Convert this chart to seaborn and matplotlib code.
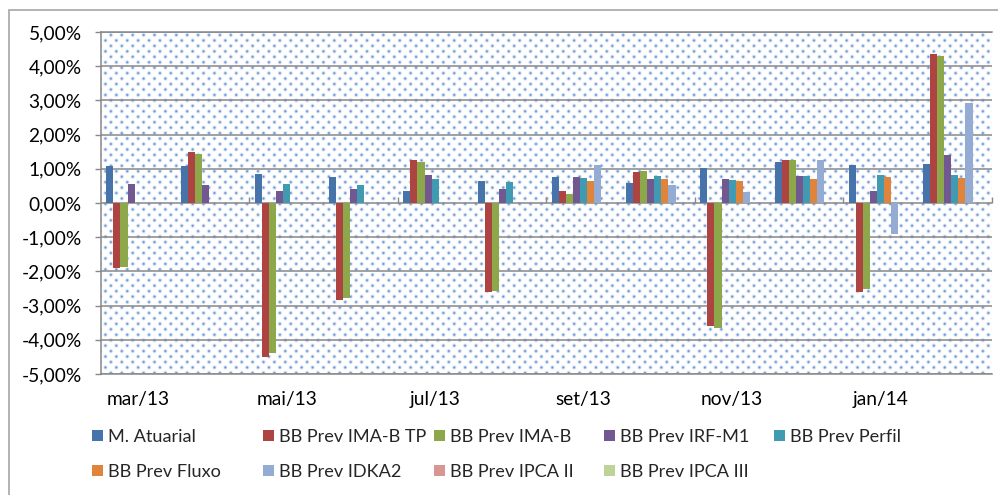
import numpy as np
import pandas as pd
import matplotlib
matplotlib.use("Agg")
import matplotlib.pyplot as plt
import seaborn as sns
from matplotlib.patches import Patch, Rectangle
from matplotlib.ticker import FuncFormatter, FixedLocator
from matplotlib.textpath import TextPath
from matplotlib.font_manager import FontProperties

# ---------------- data (monthly returns, %) ----------------
months = ["mar/13", "abr/13", "mai/13", "jun/13", "jul/13", "ago/13",
          "set/13", "out/13", "nov/13", "dez/13", "jan/14", "fev/14"]
tick_months = ["mar/13", "mai/13", "jul/13", "set/13", "nov/13", "jan/14"]
nan = np.nan
series = ["M. Atuarial", "BB Prev IMA-B TP", "BB Prev IMA-B", "BB Prev IRF-M1",
          "BB Prev Perfil", "BB Prev Fluxo", "BB Prev IDKA2", "BB Prev IPCA II",
          "BB Prev IPCA III"]
m_atuarial = [1.09, 1.08, 0.84, 0.76, 0.35, 0.64, 0.75, 0.59, 1.01, 1.20, 1.11, 1.13]
ima_b_tp = [-1.90, 1.49, -4.49, -2.83, 1.25, -2.60, 0.34, 0.90, -3.61, 1.25, -2.59, 4.37]
ima_b = [-1.86, 1.43, -4.39, -2.77, 1.21, -2.58, 0.26, 0.95, -3.65, 1.25, -2.52, 4.30]
irf_m1 = [0.55, 0.54, 0.36, 0.42, 0.83, 0.42, 0.77, 0.69, 0.70, 0.79, 0.36, 1.39]
perfil = [nan, nan, 0.57, 0.54, 0.70, 0.62, 0.72, 0.80, 0.66, 0.79, 0.81, 0.83]
fluxo = [nan, nan, nan, nan, nan, nan, 0.63, 0.71, 0.63, 0.71, 0.76, 0.72]
idka2 = [nan, nan, nan, nan, nan, nan, 1.11, 0.54, 0.31, 1.27, -0.91, 2.92]
ipca_ii = [nan] * 12
ipca_iii = [nan] * 12
values = [m_atuarial, ima_b_tp, ima_b, irf_m1, perfil, fluxo, idka2, ipca_ii, ipca_iii]
colors = ["#4674AA", "#AD4441", "#8CA84B", "#725891", "#3F9AB2", "#E0843C",
          "#94ABD4", "#D89593", "#BDD39A"]

rows = []
for s, vals in zip(series, values):
    for m, v in zip(months, vals):
        rows.append({"mes": m, "serie": s, "valor": v})
df = pd.DataFrame(rows).dropna()

# ---------------- style ----------------
sns.set_style("white")
plt.rcParams["font.family"] = ["Lato", "DejaVu Sans"]
fp = FontProperties(family="Lato")


def fit_size(text, target_px):
    w = TextPath((0, 0), text, size=10, prop=fp).get_extents().width
    return 10 * target_px * 0.72 / w


tick_fs = fit_size("5,00%", 51)
leg_fs = fit_size("BB Prev IMA-B TP", 146)
GRAY = "#888888"

W, H = 998, 495
fig = plt.figure(figsize=(W / 100, H / 100), dpi=100)
left_px, right_px, top_px, bot_px = 101, 992, 32, 374
ax = fig.add_axes([left_px / W, 1 - bot_px / H, (right_px - left_px) / W,
                   (bot_px - top_px) / H])

# dotted background texture (Excel "5%" pattern)
aw, ah = right_px - left_px, bot_px - top_px
yy, xx = np.mgrid[0:ah, 0:aw] + 0.5
img_a = np.zeros((ah, aw))
step = 5.45
for j in range(int(ah / step) + 2):
    cy = 3 + j * step
    off = 0 if j % 2 == 0 else step
    cxs = np.arange(-1 + off, aw + 11, 2 * step)
    y0, y1 = max(int(cy) - 4, 0), min(int(cy) + 5, ah)
    if y0 >= y1:
        continue
    for cx in cxs:
        x0, x1 = max(int(cx) - 4, 0), min(int(cx) + 5, aw)
        if x0 >= x1:
            continue
        d2 = (xx[y0:y1, x0:x1] - cx) ** 2 + (yy[y0:y1, x0:x1] - cy) ** 2
        img_a[y0:y1, x0:x1] = np.maximum(img_a[y0:y1, x0:x1], np.exp(-d2 / (2 * 1.0 ** 2)))
dot_rgb = np.array([0x55, 0x86, 0xCE]) / 255.0
a = img_a[..., None] * 0.92
img = np.ones((ah, aw, 3)) * (1 - a) + dot_rgb * a
ax.imshow(img, extent=(0, 1, 0, 1), transform=ax.transAxes, aspect="auto",
          zorder=0, interpolation="nearest")

sns.barplot(data=df, x="mes", y="valor", hue="serie", order=months,
            hue_order=series, palette=colors, width=9 / 10.5, errorbar=None,
            saturation=1, legend=False, ax=ax, zorder=2, linewidth=0)

ax.set_xlim(-0.5, len(months) - 0.5)
ax.set_ylim(-5, 5)
ax.set_yticks(np.arange(-5, 5.01, 1))
ax.yaxis.set_major_formatter(FuncFormatter(
    lambda v, p: ("%.2f%%" % (0.0 if abs(v) < 1e-9 else v)).replace(".", ",")))
ax.grid(axis="y", color=GRAY, lw=1.1, zorder=1)
ax.grid(axis="x", visible=False)
ax.set_axisbelow(True)
for g in ax.get_ygridlines():
    g.set_zorder(1)

ax.set_xticks(range(0, len(months), 2))
ax.set_xticklabels(tick_months)
ax.set_xlabel("")
ax.set_ylabel("")
ax.tick_params(axis="x", length=0, pad=12, labelsize=tick_fs, colors="black")
ax.tick_params(axis="y", length=4, width=1.0, color=GRAY, pad=10,
               labelsize=tick_fs, labelcolor="black", left=True)
for side in ["left", "top", "bottom"]:
    ax.spines[side].set_visible(True)
    ax.spines[side].set_color(GRAY)
    ax.spines[side].set_linewidth(1.1)
ax.spines["right"].set_visible(False)

# small tick marks on the zero line between category pairs
sec = ax.secondary_xaxis(0.5)
sec.xaxis.set_major_locator(FixedLocator(np.arange(1.5, len(months), 2)))
sec.tick_params(axis="x", length=4, width=1.0, color=GRAY, labeltop=False,
                labelbottom=False)
for sp in sec.spines.values():
    sp.set_visible(False)

# legend: 5 fixed columns, 2 rows
fs_px = leg_fs * 100 / 72
col_x = [92, 263, 434, 604, 774]
row_y = [437, 472]
for i, (s, c) in enumerate(zip(series, colors)):
    r, k = divmod(i, 5)
    fig.legend(handles=[Patch(facecolor=c, edgecolor="none", label=s)],
               loc="center left",
               bbox_to_anchor=(col_x[k] / W, 1 - row_y[r] / H),
               frameon=False, fontsize=leg_fs, borderpad=0, borderaxespad=0,
               handlelength=11 / fs_px, handleheight=11 / fs_px,
               handletextpad=5 / fs_px)

# outer chart border
fig.add_artist(Rectangle((9 / W, -0.2), 1.2, 1.2 - 10 / H, transform=fig.transFigure,
                         fill=False, edgecolor="#A6A6A6", lw=1.2))

fig.savefig("out.png", dpi=100)
